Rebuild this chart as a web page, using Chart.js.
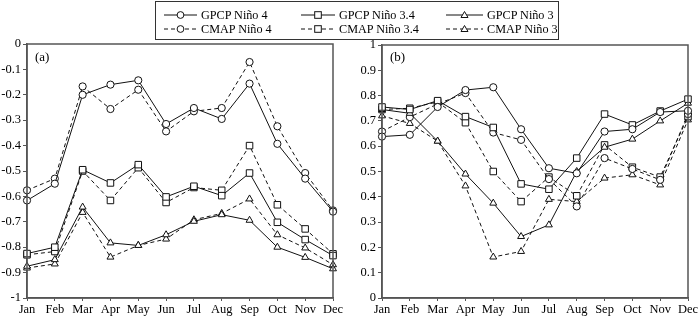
<!DOCTYPE html>
<html>
<head>
<meta charset="utf-8">
<script src="https://cdn.jsdelivr.net/npm/chart.js@4/dist/chart.umd.min.js"></script>
<style>
  body { margin: 0; background: #fff; }
  #wrap { position: relative; width: 700px; height: 317px; font-family: "Liberation Serif", serif; }
  canvas { position: absolute; top: 0; }
  #legend { position: absolute; left: 155px; top: 1px; width: 402px; height: 37px; border: 1.5px solid #333; }
  .item { position: absolute; font-size: 12.2px; line-height: 14px; white-space: nowrap; color: #000; }
  .item svg { position: absolute; top: 2px; }
  .item span { position: absolute; top: 0; }
  .panel { position: absolute; font-size: 13px; }
</style>
</head>
<body>
<div id="wrap">
  <canvas id="chartA" width="350" height="317" style="left:0"></canvas>
  <canvas id="chartB" width="350" height="317" style="left:350px"></canvas>
  <div id="legend"></div>
  <div class="panel" style="left:35px; top:49px;">(a)</div>
  <div class="panel" style="left:390px; top:49px;">(b)</div>
</div>
<script>
const months = ["Jan", "Feb", "Mar", "Apr", "May", "Jun", "Jul", "Aug", "Sep", "Oct", "Nov", "Dec"];

// panel (a)
const gpcp4A  = [-0.616, -0.55, -0.20, -0.16, -0.143, -0.315, -0.252, -0.295, -0.156, -0.393, -0.53, -0.66];
const cmap4A  = [-0.576, -0.53, -0.167, -0.256, -0.18, -0.344, -0.265, -0.252, -0.071, -0.324, -0.508, -0.655];
const gpcp34A = [-0.825, -0.80, -0.495, -0.547, -0.475, -0.602, -0.56, -0.597, -0.508, -0.702, -0.77, -0.833];
const cmap34A = [-0.83, -0.817, -0.50, -0.616, -0.487, -0.624, -0.565, -0.576, -0.40, -0.633, -0.728, -0.826];
const gpcp3A  = [-0.875, -0.849, -0.642, -0.783, -0.793, -0.751, -0.698, -0.672, -0.694, -0.80, -0.84, -0.885];
const cmap3A  = [-0.882, -0.866, -0.663, -0.839, -0.793, -0.768, -0.692, -0.667, -0.61, -0.751, -0.803, -0.869];

// panel (b)
const gpcp4B  = [0.638, 0.645, 0.755, 0.822, 0.833, 0.667, 0.513, 0.493, 0.658, 0.667, 0.735, 0.74];
const cmap4B  = [0.658, 0.715, 0.767, 0.81, 0.654, 0.625, 0.47, 0.362, 0.553, 0.51, 0.467, 0.727];
const gpcp34B = [0.755, 0.745, 0.78, 0.717, 0.674, 0.451, 0.43, 0.553, 0.727, 0.684, 0.739, 0.786];
const cmap34B = [0.745, 0.75, 0.775, 0.693, 0.5, 0.381, 0.478, 0.404, 0.605, 0.517, 0.478, 0.717];
const gpcp3B  = [0.745, 0.73, 0.62, 0.49, 0.375, 0.243, 0.289, 0.50, 0.596, 0.628, 0.70, 0.77];
const cmap3B  = [0.72, 0.69, 0.62, 0.443, 0.162, 0.184, 0.39, 0.381, 0.474, 0.487, 0.447, 0.704];

const seriesNames = ["GPCP Niño 4", "GPCP Niño 3.4", "GPCP Niño 3", "CMAP Niño 4", "CMAP Niño 3.4", "CMAP Niño 3"];

const dash = [4, 3];
const styles = [
  { shape: "circle", r: 3.6, dash: [] },
  { shape: "rect", r: 4.6, dash: [] },
  { shape: "triangle", r: 4, dash: [] },
  { shape: "circle", r: 3.6, dash: dash },
  { shape: "rect", r: 4.6, dash: dash },
  { shape: "triangle", r: 4, dash: dash },
];

function makeSets(arrs) {
  return arrs.map((d, i) => ({
    label: seriesNames[i],
    data: d,
    borderColor: "#111",
    borderWidth: 1,
    borderDash: styles[i].dash,
    backgroundColor: "#fff",
    pointStyle: styles[i].shape,
    pointRadius: styles[i].r,
    pointBorderWidth: 1,
    pointBackgroundColor: "#fff",
    pointBorderColor: "#111",
    tension: 0,
    fill: false,
  }));
}

// box around the plot area
const boxPlugin = {
  id: "box",
  afterDraw(chart) {
    const a = chart.chartArea;
    const c = chart.ctx;
    c.save();
    c.strokeStyle = "#555";
    c.lineWidth = 1.5;
    c.strokeRect(a.left, a.top, a.right - a.left, a.bottom - a.top);
    c.restore();
  },
};

function makeConfig(arrs, yMin, yMax, yWidth, padRight, padTop) {
  return {
    type: "line",
    data: { labels: months, datasets: makeSets(arrs) },
    options: {
      responsive: false,
      animation: false,
      layout: { padding: { top: padTop, right: padRight, left: 0, bottom: 0 } },
      plugins: { legend: { display: false }, tooltip: { enabled: false } },
      scales: {
        x: {
          offset: false,
          afterFit: (s) => { s.height = 19; },
          grid: { drawOnChartArea: false, tickLength: 3, color: "#555" },
          border: { color: "#555", width: 1.5 },
          ticks: { padding: 1, color: "#000", font: { family: "Liberation Serif", size: 12.5 }, maxRotation: 0, autoSkip: false },
        },
        y: {
          min: yMin,
          max: yMax,
          afterFit: (s) => { s.width = yWidth; },
          grid: { drawOnChartArea: false, tickLength: 4, color: "#555" },
          border: { color: "#555", width: 1.5 },
          ticks: {
            stepSize: 0.1,
            padding: 2,
            color: "#000",
            font: { family: "Liberation Serif", size: 12.5 },
            callback: (v) => String(Number(v.toFixed(1)) || 0),
          },
        },
      },
    },
    plugins: [boxPlugin],
  };
}

const chartA = new Chart(document.getElementById("chartA").getContext("2d"),
  makeConfig([gpcp4A, gpcp34A, gpcp3A, cmap4A, cmap34A, cmap3A], -1, 0, 27, 17, 44));

const chartB = new Chart(document.getElementById("chartB").getContext("2d"),
  makeConfig([gpcp4B, gpcp34B, gpcp3B, cmap4B, cmap34B, cmap3B], 0, 1, 32, 12, 45));

// legend, two rows by three columns
const legendPos = [
  { x: 8, y: 6, w: 33 }, { x: 145, y: 6, w: 34 }, { x: 290, y: 6, w: 37 },
  { x: 8, y: 20, w: 33 }, { x: 145, y: 20, w: 34 }, { x: 290, y: 20, w: 37 },
];

function markerSvg(shape, cx, cy) {
  if (shape === "circle") return `<circle cx="${cx}" cy="${cy}" r="3.4" fill="#fff" stroke="#111"/>`;
  if (shape === "rect") return `<rect x="${cx - 3.3}" y="${cy - 3.3}" width="6.6" height="6.6" fill="#fff" stroke="#111"/>`;
  return `<polygon points="${cx},${cy - 3.5} ${cx + 3.5},${cy + 2.5} ${cx - 3.5},${cy + 2.5}" fill="#fff" stroke="#111"/>`;
}

const legend = document.getElementById("legend");
seriesNames.forEach((name, i) => {
  const p = legendPos[i];
  const st = styles[i];
  const item = document.createElement("div");
  item.className = "item";
  item.style.left = p.x + "px";
  item.style.top = p.y + "px";
  const dashAttr = st.dash.length ? ' stroke-dasharray="4,3"' : "";
  item.innerHTML =
    `<svg width="${p.w}" height="10"><line x1="0" y1="5" x2="${p.w}" y2="5" stroke="#111" stroke-width="1"${dashAttr}/>` +
    markerSvg(st.shape, p.w / 2, 5) + `</svg>` +
    `<span style="left:${p.w + 4}px">${name}</span>`;
  legend.appendChild(item);
});
</script>
</body>
</html>
